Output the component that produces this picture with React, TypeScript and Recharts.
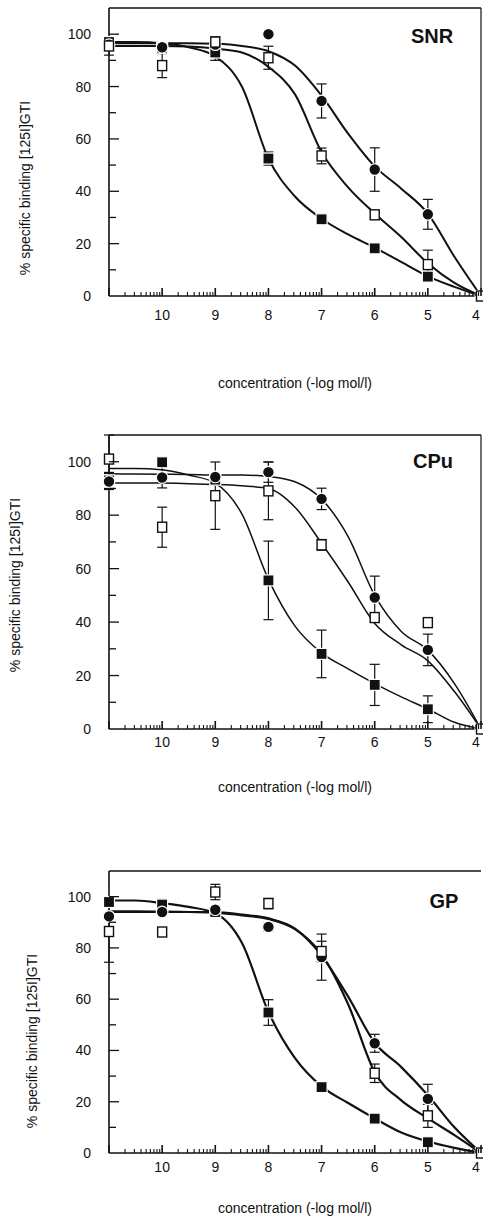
import React from 'react';
import { ComposedChart, Line, Scatter, XAxis, YAxis, ErrorBar, Label, ReferenceLine } from 'recharts';

const FONT = '"Liberation Sans", Arial, Helvetica, sans-serif';
const INK = '#111';

// concentrations (-log mol/l) of measured points
const CONC = [11, 10, 9, 8, 7, 6, 5, 4];
// positions at which fitted curves were read
const CURVE_X = [11, 10.5, 10, 9.5, 9, 8.5, 8, 7.5, 7, 6.5, 6, 5.5, 5, 4.5, 4];
const X_TICK_LABELS = [10, 9, 8, 7, 6, 5, 4];
const LOG_MINOR = [2, 3, 4, 5, 6, 7, 8, 9];
const Y_TICKS = [0, 10, 20, 30, 40, 50, 60, 70, 80, 90, 100, 110];
const Y_TICK_LABELS = [0, 20, 40, 60, 80, 100];
const TITLES = ['SNR', 'CPu', 'GP'];
const Y_TITLE = '% specific binding [125I]GTI';
const X_TITLE = 'concentration (-log mol/l)';

// SNR
const SNR_CIRCLE = [96, 95, 96, 100, 74.5, 48.3, 31.2, 0];
const SNR_CIRCLE_ERR = [0, 0, 0, 0, 6.5, 8.3, 5.7, 0];
const SNR_OPEN = [95.5, 88, 97, 91, 53.5, 31, 12, 0];
const SNR_OPEN_ERR = [3.5, 4.6, 2, 4.4, 3, 1, 5.5, 0];
const SNR_FILLED = [97, 94.8, 93, 52.5, 29.3, 18.2, 7.4, 0];
const SNR_FILLED_ERR = [2, 0, 3, 2.5, 1.5, 1, 1, 0];
const SNR_CIRCLE_FIT = [96.5, 96.5, 96.5, 96.5, 96.3, 95.5, 93.5, 88, 76.5, 62, 49.5, 41, 31.5, 15, 0];
const SNR_OPEN_FIT = [95.5, 95.5, 95.5, 95.3, 94.5, 93, 87.5, 77, 55, 41.5, 31.5, 22.5, 12.5, 5, 0];
const SNR_FILLED_FIT = [97, 97, 96.5, 95, 91.5, 80, 52.5, 38, 29.5, 23.5, 18.5, 13, 7.5, 3.5, 0];

// CPu
const CPU_CIRCLE = [92.6, 94.1, 94.3, 96.1, 86.1, 49.2, 29.6, 0];
const CPU_CIRCLE_ERR = [3, 3.9, 0, 3.8, 4, 8, 5.9, 0];
const CPU_OPEN = [101, 75.5, 87.3, 89.1, 68.9, 41.7, 39.8, 0];
const CPU_OPEN_ERR = [9, 7.5, 12.6, 10.8, 2, 1.5, 1.5, 0];
const CPU_FILLED = [93, 99.8, 93.3, 55.6, 28.1, 16.5, 7.4, 0];
const CPU_FILLED_ERR = [3, 0, 0, 14.7, 8.9, 7.7, 5, 0];
const CPU_CIRCLE_FIT = [95.5, 95.4, 95.3, 95.2, 95, 95, 94.5, 92.5, 86, 72, 50, 36.5, 29.5, 17, 0];
const CPU_OPEN_FIT = [92, 92, 92, 91.8, 91.5, 91, 90, 83, 69.5, 55, 39.5, 31.5, 25.5, 14, 0];
const CPU_FILLED_FIT = [97.5, 97.5, 97, 95, 92, 80.5, 56, 38.5, 28.5, 22.5, 17, 12, 7.5, 2.5, 0];

// GP
const GP_CIRCLE = [92.3, 94, 94.9, 88.2, 76.4, 42.8, 21.1, 0];
const GP_CIRCLE_ERR = [0, 0, 0, 1.5, 9, 3.5, 5.7, 0];
const GP_OPEN = [86.4, 86.2, 101.8, 97.3, 78.6, 31.1, 14.5, 0];
const GP_OPEN_ERR = [12, 1.5, 3, 2, 4, 3.6, 4.5, 0];
const GP_FILLED = [97.9, 96.9, 94, 54.8, 25.7, 13.4, 4.2, 0];
const GP_FILLED_ERR = [1.5, 2, 2, 5, 2, 0, 0, 0];
const GP_CIRCLE_FIT = [94, 94, 94, 94, 94, 93, 91.5, 87.5, 77, 61, 43, 33.5, 22.5, 10, 0];
const GP_OPEN_FIT = [94.3, 94.3, 94.2, 94, 93.8, 92.7, 91.3, 87.3, 77.5, 58, 31.5, 20.5, 13.5, 7, 0];
const GP_FILLED_FIT = [98.5, 98.5, 97.5, 96, 93.5, 82, 55, 37, 26, 19.5, 13.5, 8, 4.5, 2, 0];

const pts = (ys: number[], errs: number[]) =>
  CONC.map((x, i) => ({ x, y: ys[i], err: errs[i] }));
const fit = (ys: number[]) => CURVE_X.map((x, i) => ({ x, y: ys[i] }));

const X_TICKS: number[] = [11, ...X_TICK_LABELS];
for (let d = 11; d > 4; d--) {
  LOG_MINOR.forEach((k) => X_TICKS.push(d - Math.log10(k)));
}

const circleShape = (p: any) => (
  <circle cx={p.cx} cy={p.cy} r={5.8} fill={INK} stroke="#fff" strokeWidth={1.2} />
);
const filledSquareShape = (p: any) => (
  <rect x={p.cx - 5.5} y={p.cy - 5.5} width={11} height={11} fill={INK} stroke="#fff" strokeWidth={1.2} />
);
const openSquareShape = (p: any) => (
  <rect x={p.cx - 4.5} y={p.cy - 5} width={9} height={10} fill="#fff" stroke={INK} strokeWidth={1.4} />
);

function renderXTick(props: any, labelDy: number) {
  const { x, y, payload } = props;
  const v = payload.value;
  const isMajor = Math.abs(v - Math.round(v)) < 1e-6;
  const len = isMajor ? 8 : 4;
  return (
    <g>
      <line x1={x} x2={x} y1={y} y2={y - len} stroke={INK} strokeWidth={isMajor ? 1.6 : 1.1} />
      {isMajor && X_TICK_LABELS.includes(v) && (
        <text x={Math.min(x, 476)} y={y + labelDy} textAnchor="middle" fontSize={14} fill={INK} fontFamily={FONT}>
          {v}
        </text>
      )}
    </g>
  );
}

function renderYTick(props: any) {
  const { x, y, payload } = props;
  const v = payload.value;
  const labeled = Y_TICK_LABELS.includes(v);
  return (
    <g>
      {v > 0 && v < 110 && (
        <line x1={x} x2={x + (labeled ? 10 : 7)} y1={y} y2={y} stroke={INK} strokeWidth={1.3} />
      )}
      {labeled && (
        <text x={x - 18} y={y + 5} textAnchor="end" fontSize={14} fill={INK} fontFamily={FONT}>
          {v}
        </text>
      )}
    </g>
  );
}

type PanelProps = {
  title: string;
  top: number;
  height: number;
  marginTop: number;
  xAxisHeight: number;
  tickDy: number;
  xTitleY: number;
  yTitleX: number;
  yTitleY: number;
  titleX: number;
  titleY: number;
  lineWidth: number;
  rightBorder: boolean;
  circle: any[];
  open: any[];
  filled: any[];
  circleFit: any[];
  openFit: any[];
  filledFit: any[];
};

function Panel(p: PanelProps) {
  return (
    <div style={{ position: 'absolute', left: 0, top: p.top }}>
      <ComposedChart
        width={483}
        height={p.height}
        margin={{ top: p.marginTop, right: 2, bottom: 0, left: 0 }}
      >
        <XAxis
          type="number"
          dataKey="x"
          domain={[4, 11]}
          reversed
          ticks={X_TICKS}
          interval={0}
          tickSize={0}
          tickMargin={0}
          tickLine={false}
          height={p.xAxisHeight}
          axisLine={{ stroke: INK, strokeWidth: 1.6 }}
          tick={(t: any) => renderXTick(t, p.tickDy)}
        >
          <Label
            content={() => (
              <g>
                <text x={295} y={p.xTitleY} textAnchor="middle" fontSize={14} fill={INK} fontFamily={FONT}>
                  {X_TITLE}
                </text>
                <text x={p.titleX} y={p.titleY} textAnchor="middle" fontSize={20} fontWeight="bold" fill={INK} fontFamily={FONT}>
                  {p.title}
                </text>
              </g>
            )}
          />
        </XAxis>
        <YAxis
          type="number"
          dataKey="y"
          domain={[0, 110]}
          ticks={Y_TICKS}
          interval={0}
          width={109}
          tickSize={0}
          tickMargin={0}
          tickLine={false}
          axisLine={{ stroke: INK, strokeWidth: 1.6 }}
          tick={renderYTick}
        >
          <Label
            content={() => (
              <text
                x={p.yTitleX}
                y={p.yTitleY}
                textAnchor="middle"
                dominantBaseline="central"
                transform={`rotate(-90, ${p.yTitleX}, ${p.yTitleY})`}
                fontSize={14}
                fill={INK}
                fontFamily={FONT}
              >
                {Y_TITLE}
              </text>
            )}
          />
        </YAxis>
        <ReferenceLine y={110} stroke={INK} strokeWidth={1.4} />
        {p.rightBorder && <ReferenceLine x={4} stroke={INK} strokeWidth={1.2} />}
        <Line data={p.circleFit} dataKey="y" type="monotone" dot={false} stroke={INK} strokeWidth={p.lineWidth} isAnimationActive={false} />
        <Line data={p.openFit} dataKey="y" type="monotone" dot={false} stroke={INK} strokeWidth={p.lineWidth} isAnimationActive={false} />
        <Line data={p.filledFit} dataKey="y" type="monotone" dot={false} stroke={INK} strokeWidth={p.lineWidth} isAnimationActive={false} />
        <Scatter data={p.filled} dataKey="y" shape={filledSquareShape} isAnimationActive={false}>
          <ErrorBar dataKey="err" direction="y" width={5} stroke={INK} strokeWidth={1.2} />
        </Scatter>
        <Scatter data={p.circle} dataKey="y" shape={circleShape} isAnimationActive={false}>
          <ErrorBar dataKey="err" direction="y" width={5} stroke={INK} strokeWidth={1.2} />
        </Scatter>
        <Scatter data={p.open} dataKey="y" shape={openSquareShape} isAnimationActive={false}>
          <ErrorBar dataKey="err" direction="y" width={5} stroke={INK} strokeWidth={1.2} />
        </Scatter>
      </ComposedChart>
    </div>
  );
}

export default function App() {
  return (
    <div style={{ position: 'absolute', left: 0, top: 0, width: 483, height: 1218, background: '#fff', fontFamily: FONT }}>
      <Panel
        title={TITLES[0]}
        top={0}
        height={400}
        marginTop={8}
        xAxisHeight={104}
        tickDy={24}
        xTitleY={388}
        yTitleX={25}
        yTitleY={188}
        titleX={432}
        titleY={43}
        lineWidth={2}
        rightBorder={true}
        circle={pts(SNR_CIRCLE, SNR_CIRCLE_ERR)}
        open={pts(SNR_OPEN, SNR_OPEN_ERR)}
        filled={pts(SNR_FILLED, SNR_FILLED_ERR)}
        circleFit={fit(SNR_CIRCLE_FIT)}
        openFit={fit(SNR_OPEN_FIT)}
        filledFit={fit(SNR_FILLED_FIT)}
      />
      <Panel
        title={TITLES[1]}
        top={400}
        height={400}
        marginTop={35}
        xAxisHeight={71}
        tickDy={18}
        xTitleY={392}
        yTitleX={15}
        yTitleY={185}
        titleX={433}
        titleY={68}
        lineWidth={1.5}
        rightBorder={true}
        circle={pts(CPU_CIRCLE, CPU_CIRCLE_ERR)}
        open={pts(CPU_OPEN, CPU_OPEN_ERR)}
        filled={pts(CPU_FILLED, CPU_FILLED_ERR)}
        circleFit={fit(CPU_CIRCLE_FIT)}
        openFit={fit(CPU_OPEN_FIT)}
        filledFit={fit(CPU_FILLED_FIT)}
      />
      <Panel
        title={TITLES[2]}
        top={800}
        height={418}
        marginTop={71}
        xAxisHeight={65}
        tickDy={19}
        xTitleY={413}
        yTitleX={32}
        yTitleY={241}
        titleX={444}
        titleY={108}
        lineWidth={2.2}
        rightBorder={false}
        circle={pts(GP_CIRCLE, GP_CIRCLE_ERR)}
        open={pts(GP_OPEN, GP_OPEN_ERR)}
        filled={pts(GP_FILLED, GP_FILLED_ERR)}
        circleFit={fit(GP_CIRCLE_FIT)}
        openFit={fit(GP_OPEN_FIT)}
        filledFit={fit(GP_FILLED_FIT)}
      />
    </div>
  );
}
